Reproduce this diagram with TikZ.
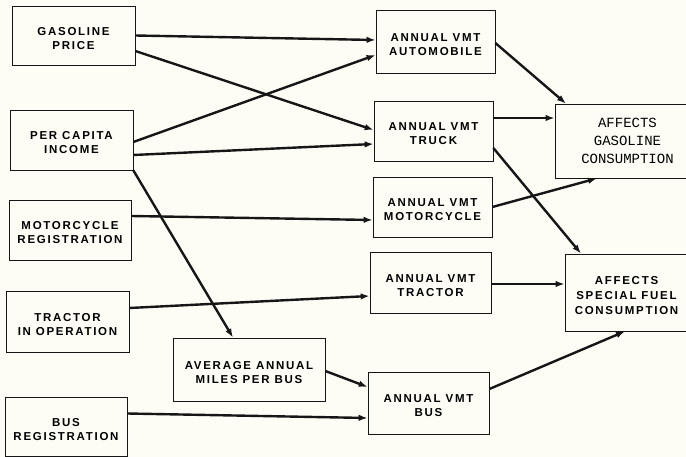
\documentclass[tikz,border=0pt]{standalone}
\usepackage{fontspec}
\newfontfamily\lettering[LetterSpace=15]{Liberation Sans}
\newfontfamily\typed{Liberation Mono}
\usetikzlibrary{arrows.meta,positioning}
\definecolor{paper}{RGB}{253,253,246}
\definecolor{ink}{RGB}{22,22,22}
\newcommand{\topline}{\rule{0pt}{14pt}}

\begin{document}
\begin{tikzpicture}[x=1pt,y=-1pt,
    box/.style={draw=ink,line width=0.7pt,rectangle,inner sep=0pt,align=center,
      font=\lettering\bfseries\fontsize{11.5}{14}\selectfont},
    flow/.style={draw=ink,line width=2.4pt,-{Latex[length=9pt,width=6.5pt]}}]
  \useasboundingbox (0,0) rectangle (686,457);
  \clip (0,0) rectangle (686,457);
  \fill[paper] (0,0) rectangle (686,457);
  % inputs
  \node[box,minimum width=123pt,minimum height=59pt] (gasprice) at (73.5,35.5) {\topline GASOLINE\\PRICE};
  \node[box,minimum width=123pt,minimum height=60pt] (income) at (71.5,140) {\topline PER CAPITA\\INCOME};
  \node[box,minimum width=122pt,minimum height=60pt] (motoreg) at (70,230) {\topline MOTORCYCLE\\REGISTRATION};
  \node[box,minimum width=123pt,minimum height=61pt] (tractorop) at (67.5,321.5) {\topline TRACTOR\\IN OPERATION};
  \node[box,minimum width=122pt,minimum height=59pt] (busreg) at (66,426.5) {\topline BUS\\REGISTRATION};
  % annual vmt
  \node[box,minimum width=119pt,minimum height=63pt] (vmtauto) at (435.5,41.5) {\topline ANNUAL VMT\\AUTOMOBILE};
  \node[box,minimum width=119pt,minimum height=60pt] (vmttruck) at (433.5,131) {\topline ANNUAL VMT\\TRUCK};
  \node[box,minimum width=119pt,minimum height=60pt] (vmtmoto) at (432.5,207) {\topline ANNUAL VMT\\MOTORCYCLE};
  \node[box,minimum width=121pt,minimum height=61pt] (vmttractor) at (430.5,282.5) {\topline ANNUAL VMT\\TRACTOR};
  \node[box,minimum width=152pt,minimum height=63pt] (avgmiles) at (249,369.5) {\topline AVERAGE ANNUAL\\MILES PER BUS};
  \node[box,minimum width=121pt,minimum height=62pt] (vmtbus) at (428.5,403) {\topline ANNUAL VMT\\BUS};
  % consumption
  \node[box,minimum width=145pt,minimum height=74pt,
    font=\typed\fontsize{14}{17.7}\selectfont] (gascons) at (627.5,141) {AFFECTS\\GASOLINE\\CONSUMPTION};
  \node[box,minimum width=123pt,minimum height=77pt,
    font=\lettering\bfseries\fontsize{11.5}{15}\selectfont] (fuelcons) at (626.5,292.5) {\topline AFFECTS\\SPECIAL FUEL\\CONSUMPTION};

  \draw[flow] (gasprice.east) -- ([yshift=1.5pt]vmtauto.west);
  \draw[flow] ([yshift=-15.5pt]gasprice.east) -- ([yshift=1pt]vmttruck.west);
  \draw[flow] ([yshift=-2pt]income.east) -- ([yshift=-13.5pt]vmtauto.west);
  \draw[flow] ([yshift=-15pt]income.east) -- ([yshift=-13pt]vmttruck.west);
  \draw[flow] (income.south east) -- ([xshift=-16pt]avgmiles.north);
  \draw[flow] ([yshift=14pt]motoreg.east) -- ([yshift=-13pt]vmtmoto.west);
  \draw[flow] ([yshift=13.5pt]tractorop.east) -- ([yshift=-13.5pt]vmttractor.west);
  \draw[flow] ([yshift=13pt]busreg.east) -- ([yshift=-15pt]vmtbus.west);
  \draw[flow] ([yshift=-1.5pt]avgmiles.east) -- ([yshift=16pt]vmtbus.west);
  %
  \draw[flow] ([yshift=-1.5pt]vmtauto.east) -- ([xshift=-61.5pt]gascons.north);
  \draw[flow] ([yshift=13pt]vmttruck.east) -- ([yshift=23pt]gascons.west);
  \draw[flow] ([yshift=-17pt]vmttruck.east) -- ([xshift=-45.5pt]fuelcons.north);
  \draw[flow] (vmtmoto.east) -- ([xshift=-30.5pt]gascons.south);
  \draw[flow] ([yshift=-1.5pt]vmttractor.east) -- ([yshift=8.5pt]fuelcons.west);
  \draw[flow] ([yshift=14pt]vmtbus.east) -- ([xshift=-1.5pt]fuelcons.south);
\end{tikzpicture}
\end{document}
